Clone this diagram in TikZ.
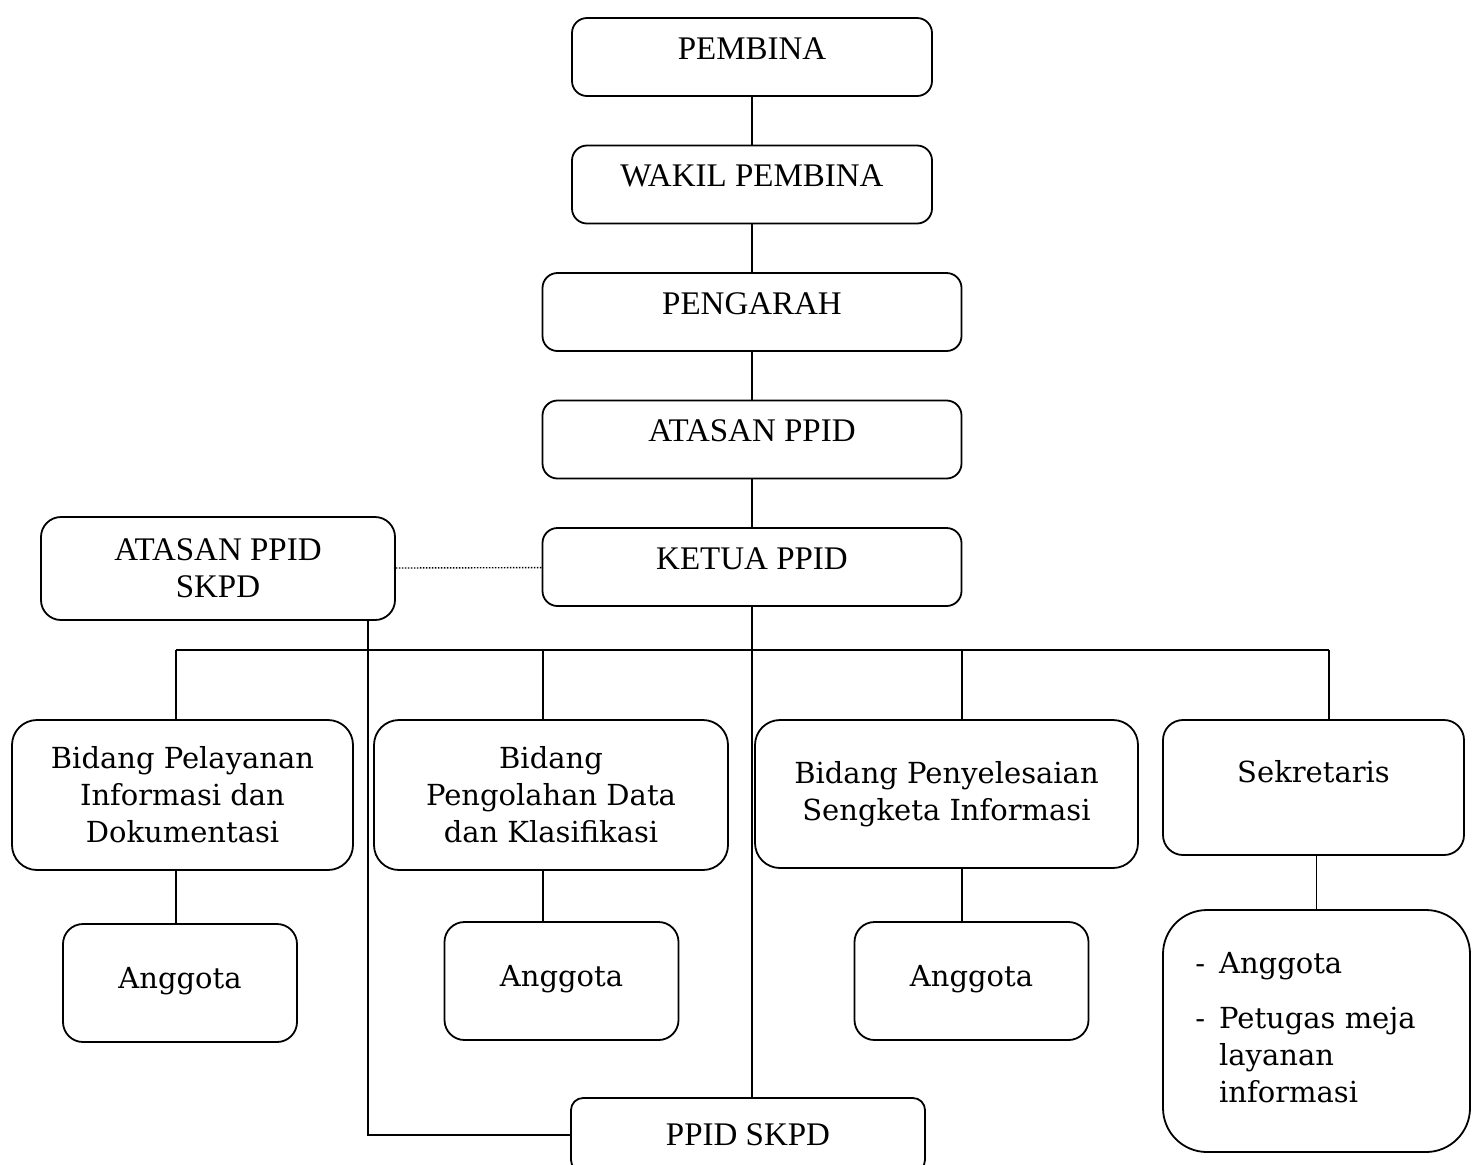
\documentclass[tikz,border=0pt]{standalone}
\usepackage{fontspec}
\setmainfont{DejaVu Serif}
\newfontfamily\capsfont{Liberation Serif}

\begin{document}
\begin{tikzpicture}[x=0.5pt, y=-0.5pt, node distance=63.75pt, line width=0.9pt,
  topbox/.style={draw, rectangle, rounded corners=7.5pt, minimum width=209.5pt, minimum height=39pt,
    font=\capsfont\fontsize{16.5}{18.5}\selectfont, text height=11pt, text depth=9pt},
  unitbox/.style={draw, rectangle, rounded corners=12.5pt, align=center, minimum height=75pt,
    font=\fontsize{14.5}{18.5}\selectfont},
  memberbox/.style={unitbox, rounded corners=10pt, minimum width=117pt, minimum height=59pt,
    text height=11pt, text depth=6pt}]
  \useasboundingbox (0,0) rectangle (1472,1164);

  \node[topbox, minimum width=180pt] (pembina) at (752,57) {PEMBINA};
  \node[topbox, below of=pembina, minimum width=180pt] (wakil) {WAKIL PEMBINA};
  \node[topbox, below of=wakil] (pengarah) {PENGARAH};
  \node[topbox, below of=pengarah] (atasan) {ATASAN PPID};
  \node[topbox, below of=atasan] (ketua) {KETUA PPID};

  \node[draw, rectangle, rounded corners=10pt, minimum width=177pt, minimum height=51.5pt, align=center,
    font=\capsfont\fontsize{16.5}{18.5}\selectfont] (atasanskpd) at (218,568.5) {ATASAN PPID\\SKPD};

  \node[unitbox, minimum width=170.5pt] (bidang1) at (182.5,795) {Bidang Pelayanan\\Informasi dan\\Dokumentasi};
  \node[unitbox, minimum width=177pt] (bidang2) at (551,795) {Bidang\\Pengolahan Data\\dan Klasifikasi};
  \node[unitbox, minimum width=191.5pt, minimum height=74pt] (bidang3) at (946.5,794) {Bidang Penyelesaian\\Sengketa Informasi};
  \node[unitbox, rounded corners=10pt, minimum width=150.5pt, minimum height=67.5pt,
    text height=11pt, text depth=16.5pt] (sekretaris) at (1313.5,787.5) {Sekretaris};

  \node[memberbox] (anggota1) at (180,983) {Anggota};
  \node[memberbox] (anggota2) at (561.5,981) {Anggota};
  \node[memberbox] (anggota3) at (971.5,981) {Anggota};
  \node[unitbox, rounded corners=22pt, minimum width=153.5pt, minimum height=121pt] (anggota4) at (1316.5,1031)
    {\begin{tabular}{@{}l@{\hspace{7pt}}l@{}}
      - & Anggota\\[9pt]
      - & Petugas meja\\
        & layanan\\
        & informasi
    \end{tabular}\hspace{11pt}};

  \node[draw, rectangle, rounded corners=6pt, minimum width=177pt, minimum height=37pt,
    font=\capsfont\fontsize{16.5}{18.5}\selectfont] (ppidskpd) at (748,1135) {PPID SKPD};

  \coordinate (bus1) at (176,650);
  \coordinate (bus2) at (543,650);
  \coordinate (bus3) at (962,650);
  \coordinate (bus4) at (1329,650);
  \coordinate (skpdturn) at (368,650);

  \draw (pembina) -- (pembina |- wakil.north);
  \draw (wakil) -- (pengarah);
  \draw (pengarah) -- (atasan);
  \draw (atasan) -- (ketua);
  \draw[line width=0.7pt, dash pattern=on 0.7pt off 0.8pt] (atasanskpd) -- (ketua);

  \draw (ketua) -- (ketua |- ppidskpd.north);
  \draw (bus1) -- (bus4);
  \draw (bus1) -- (bus1 |- bidang1.north);
  \draw (bus2) -- (bus2 |- bidang2.north);
  \draw (bus3) -- (bus3 |- bidang3.north);
  \draw (bus4) -- (bus4 |- sekretaris.north);

  \draw (bus1 |- bidang1.south) -- (bus1 |- anggota1.north);
  \draw (bus2 |- bidang2.south) -- (bus2 |- anggota2.north);
  \draw (bus3 |- bidang3.south) -- (bus3 |- anggota3.north);
  \draw (anggota4.north |- sekretaris.south) -- (anggota4.north);

  \draw (skpdturn |- atasanskpd.south) |- (ppidskpd.west);
\end{tikzpicture}
\end{document}
